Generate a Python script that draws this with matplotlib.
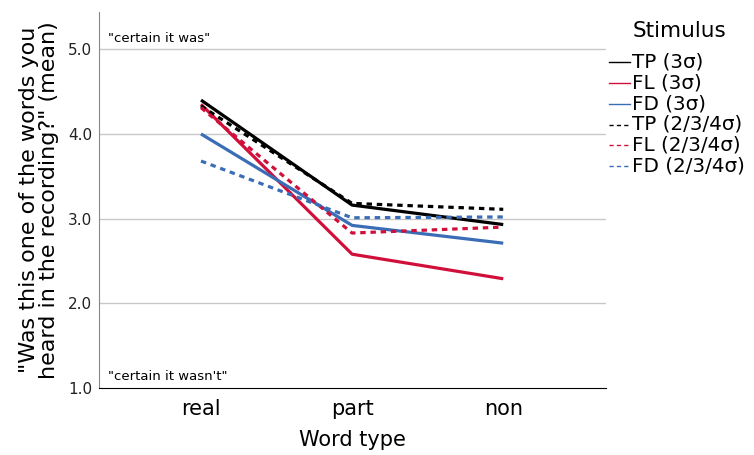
import matplotlib
matplotlib.use("Agg")
import matplotlib.pyplot as plt
from matplotlib.lines import Line2D

categories = ["real", "part", "non"]
series_names = ["TP (3σ)", "FL (3σ)", "FD (3σ)", "TP (2/3/4σ)", "FL (2/3/4σ)", "FD (2/3/4σ)"]
tp3 = [4.40, 3.16, 2.93]
fl3 = [4.35, 2.58, 2.29]
fd3 = [4.00, 2.92, 2.71]
tp234 = [4.33, 3.18, 3.11]
fl234 = [4.31, 2.83, 2.90]
fd234 = [3.68, 3.01, 3.02]
yticks = [1.0, 2.0, 3.0, 4.0, 5.0]

black = "#000000"
red = "#D0103A"
blue = "#3B6DB6"

W, H = 754, 455
fig = plt.figure(figsize=(7.54, 4.55), dpi=100)
ax = fig.add_axes([99/W, 1-388/H, (606-99)/W, (388-12)/H])

x = list(range(len(categories)))
for vals, col in [(tp3, black), (fl3, red), (fd3, blue)]:
    ax.plot(x, vals, color=col, lw=2.3, solid_capstyle="butt", zorder=3)
for vals, col in [(tp234, black), (fl234, red), (fd234, blue)]:
    ax.plot(x, vals, color=col, lw=2.3, ls=(0, (1.7, 1.5)), dash_capstyle="butt", zorder=3)

ax.set_xlim(-0.675, 2.68)
ax.set_ylim(1.0, 5.44)
ax.set_yticks(yticks)
ax.set_yticklabels([f"{v:.1f}" for v in yticks], fontsize=11, color="#222222")
ax.set_xticks(x)
ax.set_xticklabels(categories, fontsize=15)
ax.tick_params(axis="both", length=0)
ax.tick_params(axis="y", pad=5)
ax.tick_params(axis="x", pad=8)
for v in yticks[1:]:
    ax.axhline(v, color="#c8c8c8", lw=1, zorder=1)
for s in ["top", "right"]:
    ax.spines[s].set_visible(False)
ax.spines["left"].set_color("#888888")
ax.spines["bottom"].set_color("#000000")

ax.text(-0.615, 5.05, '"certain it was"', fontsize=9.5, va="bottom", ha="left")
ax.text(-0.615, 1.06, '"certain it wasn\'t"', fontsize=9.5, va="bottom", ha="left")

ax.set_xlabel("Word type", fontsize=15, labelpad=8)
ax.set_ylabel('"Was this one of the words you\nheard in the recording?" (mean)', fontsize=16,
              labelpad=6, linespacing=1.05)

# legend (manual layout)
fig.text(679/W, 1-31/H, "Stimulus", fontsize=15.5, ha="center", va="center")
styles = ["-", "-", "-", (0, (3, 2.3)), (0, (3, 2.3)), (0, (3, 2.3))]
colors = [black, red, blue, black, red, blue]
ys = [62, 83, 103.5, 124.5, 145, 165.5]
for name, st, c, yy in zip(series_names, styles, colors, ys):
    fig.add_artist(Line2D([609/W, 630/W], [1-yy/H, 1-yy/H], color=c, lw=1, ls=st,
                          transform=fig.transFigure))
    fig.text(632/W, 1-yy/H, name, fontsize=14.3, ha="left", va="center")

fig.savefig("out.png", dpi=100)
